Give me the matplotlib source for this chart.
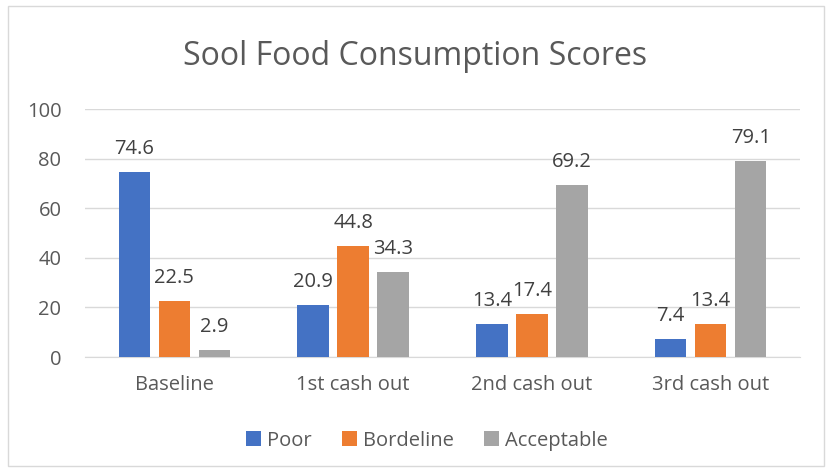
import numpy as np
import matplotlib.pyplot as plt
from matplotlib.patches import Rectangle

categories = ['Baseline', '1st cash out', '2nd cash out', '3rd cash out']
poor = [74.6, 20.9, 13.4, 7.4]
bordeline = [22.5, 44.8, 17.4, 13.4]
acceptable = [2.9, 34.3, 69.2, 79.1]
series_names = ['Poor', 'Bordeline', 'Acceptable']
colors = ['#4472C4', '#ED7D31', '#A5A5A5']
yticks = [0, 20, 40, 60, 80, 100]

plt.rcParams['font.family'] = ['Open Sans', 'DejaVu Sans']
txt = '#595959'

fig = plt.figure(figsize=(8.31, 4.71), dpi=100)
fig.patches.append(Rectangle((0.01, 0.011), 0.981, 0.976, transform=fig.transFigure,
                             fill=False, edgecolor='#d9d9d9', linewidth=1))
ax = fig.add_axes([0.1023, 0.242, 0.8604, 0.5265])

x = np.arange(len(categories))
w = 0.176
step = 0.224
for i, (vals, name, c) in enumerate(zip([poor, bordeline, acceptable], series_names, colors)):
    pos = x + (i - 1) * step
    bars = ax.bar(pos, vals, width=w, color=c, label=name, zorder=3)
    for b, v in zip(bars, vals):
        ax.annotate(f'{v}', (b.get_x() + b.get_width() / 2, v), xytext=(0, 13),
                    textcoords='offset points', ha='center', va='baseline',
                    fontsize=14.5, color='#404040')

ax.set_xlim(-0.5, 3.5)
ax.set_ylim(0, 100)
ax.set_yticks(yticks)
ax.yaxis.grid(True, color='#d9d9d9', linewidth=1, zorder=0)
ax.set_xticks(x)
ax.set_xticklabels(categories)
ax.tick_params(axis='both', length=0, labelsize=14.5, labelcolor=txt)
ax.tick_params(axis='x', pad=13)
ax.tick_params(axis='y', pad=17)
for s in ['top', 'right', 'left']:
    ax.spines[s].set_visible(False)
ax.spines['bottom'].set_color('#d9d9d9')

fig.text(0.5, 0.88, 'Sool Food Consumption Scores', ha='center', va='center',
         fontsize=23, color=txt)
fig.legend(loc='center', bbox_to_anchor=(0.514, 0.064), ncol=3, frameon=False,
           fontsize=14.5, handlelength=0.75, handleheight=0.75, handletextpad=0.3,
           columnspacing=1.5, labelcolor=txt)

fig.savefig('out.png', dpi=100)
